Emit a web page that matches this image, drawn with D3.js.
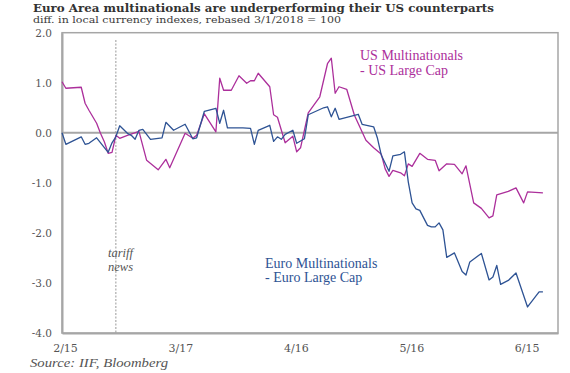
<!DOCTYPE html>
<html>
<head>
<meta charset="utf-8">
<script src="https://cdn.jsdelivr.net/npm/d3@7"></script>
<style>
  body { margin: 0; background: #fff; }
  svg { display: block; }
  .axis text { font-family: "DejaVu Serif", serif; fill: #555; }
</style>
</head>
<body>
<svg width="570" height="373"></svg>
<script>
window.onload = function() {

// ---- data ----
var usDates = ["2/15","2/16","2/20","2/21","2/22","2/24","2/25","2/26","2/27","2/28","3/1","3/2","3/4","3/7",
    "3/9","3/12","3/14","3/15","3/19","3/21","3/22","3/24","3/27","3/28","3/29","3/31","4/2","4/4","4/5","4/6",
    "4/7","4/10","4/11","4/12","4/14","4/16","4/17","4/18","4/20","4/23","4/25","4/26","4/27","4/28","4/30",
    "5/2","5/5","5/7","5/9","5/10","5/11","5/12","5/14","5/15","5/16","5/17","5/19","5/21","5/23","5/24","5/26",
    "5/28","5/30","5/31","6/2","6/4","6/6","6/7","6/8","6/11","6/13","6/15","6/16","6/20"];
var usValues = [1.02,0.89,0.91,0.59,0.45,0.19,-0.01,-0.18,-0.41,-0.39,-0.05,-0.11,-0.05,0.03,
    -0.55,-0.74,-0.53,-0.7,-0.01,-0.11,-0.05,0.38,0.02,1.09,0.85,0.85,1.14,0.99,1.04,1.04,
    1.19,0.92,0.36,0.31,-0.2,-0.07,-0.38,-0.3,0.4,0.72,1.38,1.49,0.79,0.92,0.87,
    0.35,-0.15,-0.3,-0.43,-0.72,-0.87,-0.75,-0.8,-0.86,-0.62,-0.67,-0.41,-0.53,-0.55,-0.76,-0.62,
    -0.63,-0.82,-0.66,-1.4,-1.51,-1.7,-1.66,-1.24,-1.17,-1.1,-1.4,-1.18,-1.2];

var euDates = ["2/15","2/16","2/20","2/21","2/22","2/24","2/27","2/28","3/1","3/2","3/4","3/5","3/6","3/7","3/8",
    "3/10","3/13","3/14","3/16","3/19","3/21","3/22","3/24","3/27","3/28","3/29","3/30","4/3","4/5","4/6","4/7",
    "4/10","4/11","4/12","4/13","4/14","4/16","4/17","4/19","4/20","4/24","4/25","4/26","4/27","4/28","5/1",
    "5/3","5/4","5/7","5/8","5/9","5/11","5/12","5/14","5/15","5/16","5/17","5/18","5/19","5/21","5/22","5/23",
    "5/24","5/25","5/26","5/28","5/30","5/31","6/1","6/4","6/6","6/7","6/8","6/9","6/11","6/13","6/16","6/19","6/20"];
var euValues = [0.0,-0.23,-0.08,-0.23,-0.21,-0.1,-0.39,-0.2,-0.08,0.14,-0.01,-0.05,-0.13,0.05,0.07,
    -0.13,-0.1,0.21,0.05,0.17,-0.12,-0.1,0.43,0.49,0.19,0.45,0.1,0.1,0.09,-0.23,0.05,
    0.15,-0.17,-0.08,-0.13,-0.03,0.05,-0.21,-0.12,0.36,0.5,0.52,0.32,0.49,0.27,0.33,
    0.37,0.17,0.12,-0.11,-0.45,-0.77,-0.46,-0.43,-0.38,-0.98,-1.4,-1.52,-1.55,-1.85,-1.88,-1.88,
    -1.8,-1.94,-2.49,-2.4,-2.77,-2.84,-2.58,-2.41,-2.94,-2.88,-2.65,-3.03,-2.95,-2.8,-3.48,-3.18,-3.18];

var yTicks = [2, 1, 0, -1, -2, -3, -4];
var yTickLabels = ["2.0", "1.0", "0.0", "-1.0", "-2.0", "-3.0", "-4.0"];
var xTickLabels = ["2/15", "3/17", "4/16", "5/16", "6/15"];
var tariffDate = "3/1";

var usColor = "#ac2f9b";
var euColor = "#2e5394";
var gridColor = "#a6a6a6";

var parseDate = d3.timeParse("%m/%d/%Y");
function toDate(s) { return parseDate(s + "/2018"); }

var us = usDates.map(function(d, i) { return [toDate(d), usValues[i]]; });
var eu = euDates.map(function(d, i) { return [toDate(d), euValues[i]]; });

var svg = d3.select("svg");
var left = 62, right = 558, top = 32.7, bottom = 333;

var x = d3.scaleTime()
    .domain([new Date(2018, 1, 15), new Date(2018, 5, 23, 22)])
    .range([left, right]);

var y = d3.scaleLinear()
    .domain([-4, 2])
    .range([bottom, top]);

// titles
svg.append("text")
    .attr("x", 33).attr("y", 12)
    .attr("textLength", 461).attr("lengthAdjust", "spacingAndGlyphs")
    .style("font-family", "DejaVu Serif").style("font-weight", "bold")
    .style("font-size", "11.5px").style("fill", "#333")
    .text("Euro Area multinationals are underperforming their US counterparts");

svg.append("text")
    .attr("x", 33).attr("y", 23)
    .attr("textLength", 308).attr("lengthAdjust", "spacingAndGlyphs")
    .style("font-family", "DejaVu Serif")
    .style("font-size", "10px").style("fill", "#3a3a3a")
    .text("diff. in local currency indexes, rebased 3/1/2018 = 100");

// plot frame
svg.append("rect")
    .attr("x", left).attr("y", top)
    .attr("width", right - left).attr("height", bottom - top)
    .attr("fill", "none").attr("stroke", gridColor).attr("stroke-width", 1.5);

// axes
var yAxis = d3.axisLeft(y)
    .tickValues(yTicks)
    .tickFormat(function(d, i) { return yTickLabels[i]; })
    .tickSize(0).tickPadding(10);

svg.append("g")
    .attr("class", "axis")
    .attr("transform", "translate(" + left + ",0)")
    .call(yAxis)
    .call(function(g) { g.select(".domain").attr("stroke", gridColor).attr("stroke-width", 2); })
    .selectAll("text").style("font-size", "10.5px");

var xAxis = d3.axisBottom(x)
    .tickValues(xTickLabels.map(toDate))
    .tickFormat(function(d, i) { return xTickLabels[i]; })
    .tickSize(0).tickPadding(11);

svg.append("g")
    .attr("class", "axis")
    .attr("transform", "translate(0," + bottom + ")")
    .call(xAxis)
    .call(function(g) { g.select(".domain").attr("stroke", gridColor).attr("stroke-width", 2); })
    .selectAll("text").attr("dx", 3).style("font-size", "11px");

// zero line
svg.append("line")
    .attr("x1", left).attr("x2", right)
    .attr("y1", y(0)).attr("y2", y(0))
    .attr("stroke", gridColor).attr("stroke-width", 2);

// tariff marker
svg.append("line")
    .attr("x1", x(toDate(tariffDate))).attr("x2", x(toDate(tariffDate)))
    .attr("y1", 40).attr("y2", bottom)
    .attr("stroke", "#9a9a9a").attr("stroke-width", 1)
    .attr("stroke-dasharray", "2,1.5");

var tariff = svg.append("g")
    .style("font-family", "Liberation Serif").style("font-style", "italic")
    .style("font-size", "12.5px").style("fill", "#555");
tariff.append("text").attr("x", 108).attr("y", 257).text("tariff");
tariff.append("text").attr("x", 108).attr("y", 271).text("news");

// lines
var line = d3.line()
    .x(function(d) { return x(d[0]); })
    .y(function(d) { return y(d[1]); });

svg.append("path")
    .datum(us)
    .attr("fill", "none")
    .attr("stroke", usColor)
    .attr("stroke-width", 1.3)
    .attr("stroke-linejoin", "round")
    .attr("d", line);

svg.append("path")
    .datum(eu)
    .attr("fill", "none")
    .attr("stroke", euColor)
    .attr("stroke-width", 1.3)
    .attr("stroke-linejoin", "round")
    .attr("d", line);

// labels
var usLabel = svg.append("g")
    .style("font-family", "Liberation Serif").style("font-size", "14px").style("fill", usColor);
usLabel.append("text").attr("x", 360).attr("y", 60).text("US Multinationals");
usLabel.append("text").attr("x", 360).attr("y", 75).text("- US Large Cap");

var euLabel = svg.append("g")
    .style("font-family", "Liberation Serif").style("font-size", "14px").style("fill", euColor);
euLabel.append("text").attr("x", 265).attr("y", 268).text("Euro Multinationals");
euLabel.append("text").attr("x", 265).attr("y", 282).text("- Euro Large Cap");

// source
svg.append("text")
    .attr("x", 30).attr("y", 367)
    .attr("textLength", 138).attr("lengthAdjust", "spacingAndGlyphs")
    .style("font-family", "Liberation Serif").style("font-style", "italic")
    .style("font-size", "13.5px").style("fill", "#555")
    .text("Source: IIF, Bloomberg");

}
</script>
</body>
</html>
